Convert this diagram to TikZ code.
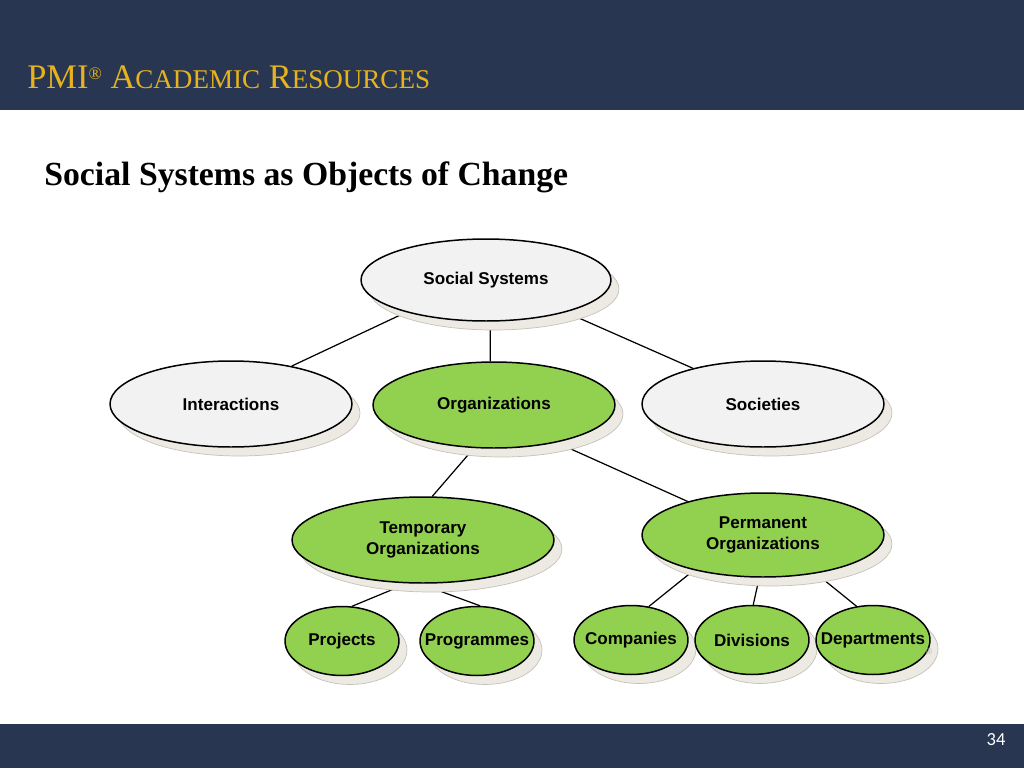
\documentclass[tikz,border=0pt]{standalone}
\usepackage{fontspec}
\setmainfont{Liberation Serif}
\setsansfont{Liberation Sans}
\newfontfamily\numfont{Carlito}
\usetikzlibrary{shapes.geometric,shadows,backgrounds}
\definecolor{navy}{HTML}{283651}
\definecolor{gold}{HTML}{E6B31E}
\definecolor{leaf}{HTML}{92D050}
\definecolor{pale}{HTML}{F2F2F2}
\definecolor{shade}{HTML}{ECEAE2}
\definecolor{shadeline}{HTML}{C4C2BA}
\begin{document}
\begin{tikzpicture}[x=0.02cm, y=-0.02cm,
	bubble/.style={ellipse, draw=black, line width=0.85pt, inner xsep=-1.5cm, inner ysep=0pt, align=center, font=\sffamily\bfseries\fontsize{9.7}{11.5}\selectfont, drop shadow={shadow xshift=0.16cm, shadow yshift=-0.18cm, fill=shade, draw=shadeline, line width=0.4pt, opacity=1}},
	wide/.style={bubble, minimum width=4.84cm, minimum height=1.72cm},
	small/.style={bubble, fill=leaf, minimum width=2.28cm, minimum height=1.38cm},
	link/.style={line width=0.7pt}]
		\useasboundingbox (0,0) rectangle (1024,768);
		\fill[navy] (0,0) rectangle (1024,110);
		\fill[navy] (0,724) rectangle (1024,768);
		\node[anchor=base west, inner sep=0pt, text=gold](header) at (27,88){\fontsize{19.6}{19.6}\selectfont PMI\raisebox{0.55ex}{\fontsize{10}{10}\selectfont ®} A{\fontsize{15.4}{15.4}\selectfont CADEMIC} R{\fontsize{15.4}{15.4}\selectfont ESOURCES}};
		\node[anchor=base west, inner sep=0pt](title) at (44,185){\bfseries\fontsize{19.2}{19.2}\selectfont Social Systems as Objects of Change};
		\node[text=white, inner sep=0pt](pagenum) at (996,740){\numfont\fontsize{10.5}{10.5}\selectfont 34};
		\node[wide, fill=pale, minimum width=5cm, minimum height=1.64cm](social) at (486,280){Social Systems};
		\node[wide, fill=pale](interact) at (231,404){Interactions};
		\node[wide, fill=leaf](org) at (494,405){Organizations};
		\node[wide, fill=pale](society) at (763,404){Societies};
		\node[wide, fill=leaf, minimum width=5.24cm](temp) at (423,540){Temporary\\Organizations};
		\node[wide, fill=leaf, minimum height=1.68cm](perm) at (763,535){Permanent\\Organizations};
		\node[small](proj) at (342,641){Projects};
		\node[small](prog) at (477,641){Programmes};
		\node[small](comp) at (631,640){Companies};
		\node[small](div) at (752,640){Divisions};
		\node[small](dept) at (873,640){Departments};
		\node[text=gray!55, inner sep=0pt, font=\sffamily\fontsize{5}{5}\selectfont](mark) at (929,651){®};
		\begin{scope}[on background layer]
		\draw [link] (social.202) -- (interact.32);
		\draw [link] (social.276) -- (org.95);
		\draw [link] (social.338) -- (society.153);
		\draw [link] (org.245) -- (temp.78);
		\draw [link] (org.329) -- (perm.156);
		\draw [link] (temp.250) -- (proj.74);
		\draw [link] (temp.266) -- (prog.85);
		\draw [link] (perm.207) -- (comp.62);
		\draw [link] (perm.265) -- (div.88);
		\draw [link] (perm.324) -- (dept.116);
		\end{scope}
	\end{tikzpicture}
\end{document}
